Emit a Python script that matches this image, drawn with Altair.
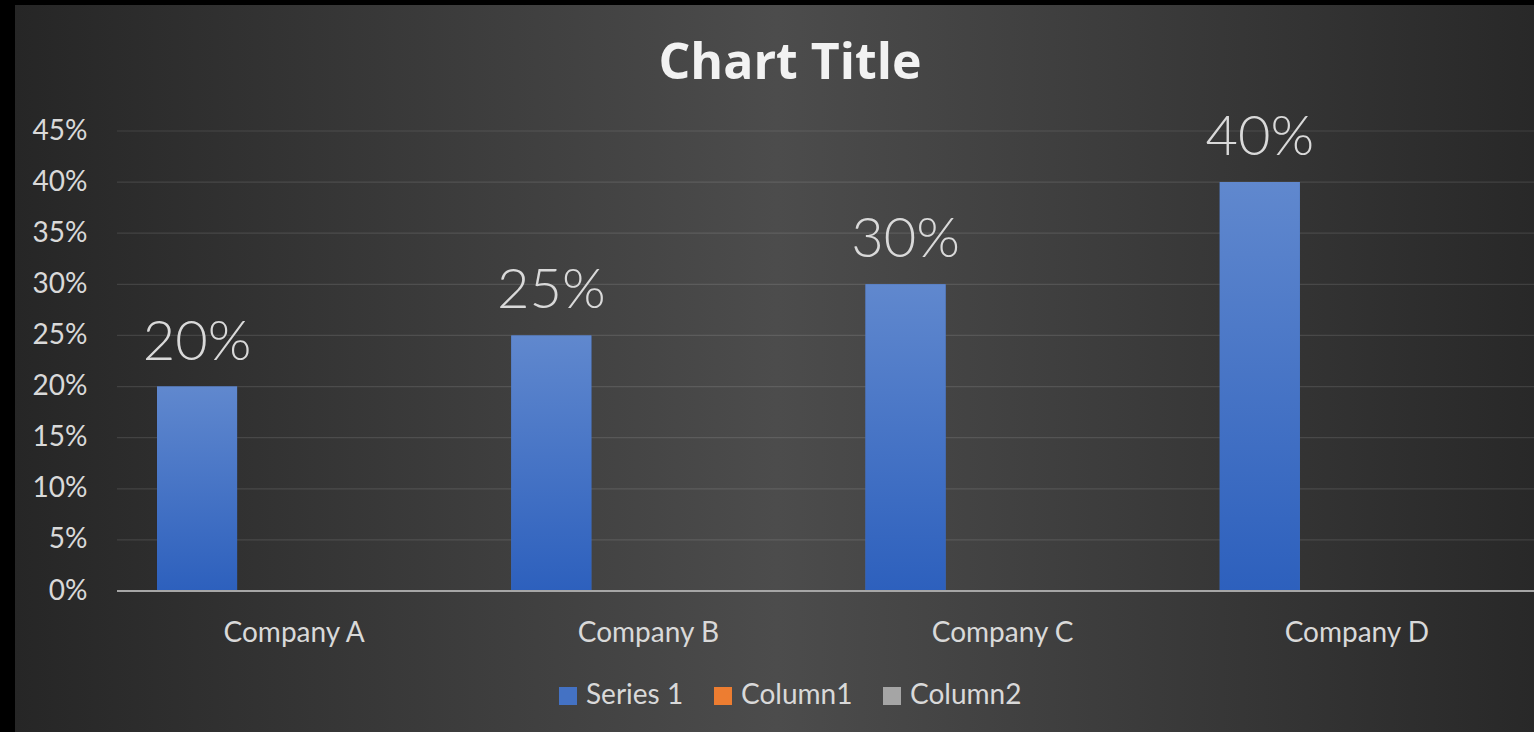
import altair as alt
import pandas as pd

companies = ["Company A", "Company B", "Company C", "Company D"]
series_names = ["Series 1", "Column1", "Column2"]
series1 = [0.20, 0.25, 0.30, 0.40]
column1 = [0, 0, 0, 0]
column2 = [0, 0, 0, 0]
y_ticks = [0, 0.05, 0.10, 0.15, 0.20, 0.25, 0.30, 0.35, 0.40, 0.45]
flat_colors = ["#4472C4", "#ED7D31", "#A5A5A5"]
chart_title = "Chart Title"

rows = []
for name, vals in zip(series_names, [series1, column1, column2]):
    for c, v in zip(companies, vals):
        rows.append({"company": c, "series": name, "value": v})
df = pd.DataFrame(rows)
grid_df = pd.DataFrame({"tick": y_ticks[1:]})
base_df = pd.DataFrame({"tick": [0]})

W, H = 1417, 460
PL, PT, PB = 117, 131, 141
FONT = "Lato"

x_enc = alt.X("company:N", sort=companies,
              scale=alt.Scale(paddingInner=0, paddingOuter=0),
              axis=alt.Axis(title=None, labelFontSize=28, labelColor="#d9d9d9",
                            labelFont=FONT, labelAngle=0, ticks=False, domain=False,
                            grid=False, labelPadding=28, zindex=1))
xo_enc = alt.XOffset("series:N", sort=series_names,
                     scale=alt.Scale(domain=series_names, paddingInner=0.175, paddingOuter=0.412))
y_enc = alt.Y("value:Q", scale=alt.Scale(domain=[0, 0.45], nice=False, zero=True),
              axis=alt.Axis(title=None, values=y_ticks, format=".0%", labelFontSize=28,
                            labelColor="#d9d9d9", labelFont=FONT, ticks=False,
                            domain=False, grid=False, labelPadding=30, zindex=1))

bg = alt.Chart(alt.Data(values=[{"a": 1}])).mark_rect(
    fill=alt.Gradient(gradient="linear", x1=0, y1=0, x2=1, y2=0,
                      stops=[alt.GradientStop(offset=0, color="#262626"),
                             alt.GradientStop(offset=0.5, color="#4c4c4c"),
                             alt.GradientStop(offset=1, color="#282828")])
).encode(x=alt.value(15 - PL), x2=alt.value(W + 5), y=alt.value(5 - PT), y2=alt.value(H + PB + 5))

title = alt.Chart(alt.Data(values=[{"t": chart_title}])).mark_text(
    font="Open Sans", fontSize=50, fontWeight="bold", color="#f2f2f2", baseline="alphabetic",
    align="center"
).encode(x=alt.value(790 - PL), y=alt.value(79 - PT), text="t:N")

grid = alt.Chart(grid_df).mark_rule(color="#ffffff", strokeOpacity=0.11, strokeWidth=1.2).encode(
    y=alt.Y("tick:Q", scale=alt.Scale(domain=[0, 0.45], nice=False)),
    x=alt.value(0), x2=alt.value(W))

bars = alt.Chart(df).mark_bar().encode(
    x=x_enc, xOffset=xo_enc, y=y_enc,
    color=alt.Color("series:N", sort=series_names,
                    scale=alt.Scale(domain=series_names, range=flat_colors),
                    legend=alt.Legend(title=None, orient="none", legendX=437, legendY=551,
                                      direction="horizontal", labelFontSize=28,
                                      labelColor="#d9d9d9", labelFont=FONT,
                                      symbolType="square", symbolSize=324,
                                      symbolStrokeWidth=0, labelOffset=4,
                                      columnPadding=25, padding=0, symbolOpacity=1)))

grad_bars = alt.Chart(df).transform_filter(alt.datum.series == "Series 1").mark_bar(
    fill=alt.Gradient(gradient="linear", x1=0, y1=0, x2=0, y2=1,
                      stops=[alt.GradientStop(offset=0, color="#6088ce"),
                             alt.GradientStop(offset=1, color="#2d60bd")])
).encode(x=x_enc, xOffset=xo_enc, y=y_enc)

labels = alt.Chart(df).transform_filter(alt.datum.series == "Series 1").mark_text(
    font=FONT, fontSize=56, fontWeight=300, color="#d9d9d9", baseline="alphabetic", dy=-27
).encode(x=x_enc, xOffset=xo_enc, y=y_enc, text=alt.Text("value:Q", format=".0%"))

baseline = alt.Chart(base_df).mark_rule(color="#a6a6a6", strokeWidth=2).encode(
    y=alt.Y("tick:Q", scale=alt.Scale(domain=[0, 0.45], nice=False)),
    x=alt.value(0), x2=alt.value(W))

chart = alt.layer(bg, title, grid, bars, grad_bars, baseline, labels).properties(
    width=W, height=H,
    padding={"left": PL, "top": PT, "right": 0, "bottom": PB},
    autosize=alt.AutoSizeParams(type="none"),
    background="#000000",
).configure_view(stroke=None).configure_legend(labelFont=FONT)

chart.save("out.html", embed_options={"renderer": "svg", "actions": False})
